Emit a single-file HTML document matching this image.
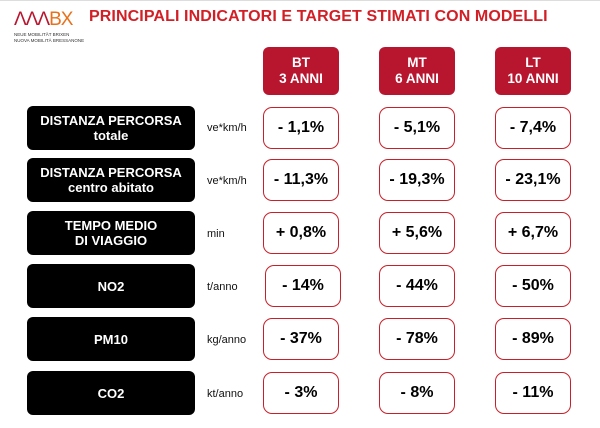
<!DOCTYPE html>
<html><head><meta charset="utf-8"><style>
body{margin:0;width:600px;height:428px;background:#fff;position:relative;overflow:hidden;font-family:"Liberation Sans",sans-serif}
.a{position:absolute}
.lab{position:absolute;left:27px;width:168px;height:44px;background:#000;border-radius:6px;color:#fff;font-weight:bold;font-size:13px;line-height:15px;display:flex;align-items:center;justify-content:center;text-align:center}
.u{position:absolute;left:207px;font-size:11px;color:#111}
.v{position:absolute;width:74px;height:40px;border:1.5px solid #c8202a;border-radius:9px;font-weight:bold;font-size:16px;display:flex;align-items:center;justify-content:center;color:#000}
.h{position:absolute;top:47px;width:76px;height:48px;background:#b8162f;border-radius:6px;color:#fff;font-weight:bold;font-size:13.5px;line-height:16px;display:flex;align-items:center;justify-content:center;text-align:center}
</style></head><body>
<div class="a" style="left:0;top:0;width:600px;height:1px;background:#ddd"></div>
<div class="a" style="left:14px;top:9px;font-size:19px;letter-spacing:-1px;color:#b8162f">ΛΛΛ<span style="color:#e8711c">BX</span></div>
<div class="a" style="left:14px;top:32px;font-size:4.5px;line-height:6px;color:#333">NEUE MOBILITÄT BRIXEN<br>NUOVA MOBILITÀ BRESSANONE</div>
<div class="a" style="left:89px;top:8px;font-size:16px;font-weight:bold;color:#d21f26;letter-spacing:0.1px">PRINCIPALI INDICATORI E TARGET STIMATI CON MODELLI</div>
<div class="h" style="left:263px">BT<br>3 ANNI</div>
<div class="h" style="left:379px">MT<br>6 ANNI</div>
<div class="h" style="left:495px">LT<br>10 ANNI</div>

<div class="lab" style="top:106px">DISTANZA PERCORSA<br>totale</div>
<div class="lab" style="top:158px">DISTANZA PERCORSA<br>centro abitato</div>
<div class="lab" style="top:211px">TEMPO MEDIO<br>DI VIAGGIO</div>
<div class="lab" style="top:264px">NO2</div>
<div class="lab" style="top:317px">PM10</div>
<div class="lab" style="top:371px">CO2</div>

<div class="u" style="top:122px">ve*km/h</div>
<div class="u" style="top:175px">ve*km/h</div>
<div class="u" style="top:228px">min</div>
<div class="u" style="top:281px">t/anno</div>
<div class="u" style="top:334px">kg/anno</div>
<div class="u" style="top:388px">kt/anno</div>

<div class="v" style="left:263px;top:107px">- 1,1%</div>
<div class="v" style="left:379px;top:107px">- 5,1%</div>
<div class="v" style="left:495px;top:107px">- 7,4%</div>
<div class="v" style="left:263px;top:159px">- 11,3%</div>
<div class="v" style="left:379px;top:159px">- 19,3%</div>
<div class="v" style="left:495px;top:159px">- 23,1%</div>
<div class="v" style="left:263px;top:212px">+ 0,8%</div>
<div class="v" style="left:379px;top:212px">+ 5,6%</div>
<div class="v" style="left:495px;top:212px">+ 6,7%</div>
<div class="v" style="left:265px;top:265px">- 14%</div>
<div class="v" style="left:379px;top:265px">- 44%</div>
<div class="v" style="left:495px;top:265px">- 50%</div>
<div class="v" style="left:263px;top:318px">- 37%</div>
<div class="v" style="left:379px;top:318px">- 78%</div>
<div class="v" style="left:495px;top:318px">- 89%</div>
<div class="v" style="left:263px;top:372px">- 3%</div>
<div class="v" style="left:379px;top:372px">- 8%</div>
<div class="v" style="left:495px;top:372px">- 11%</div>
</body></html>
